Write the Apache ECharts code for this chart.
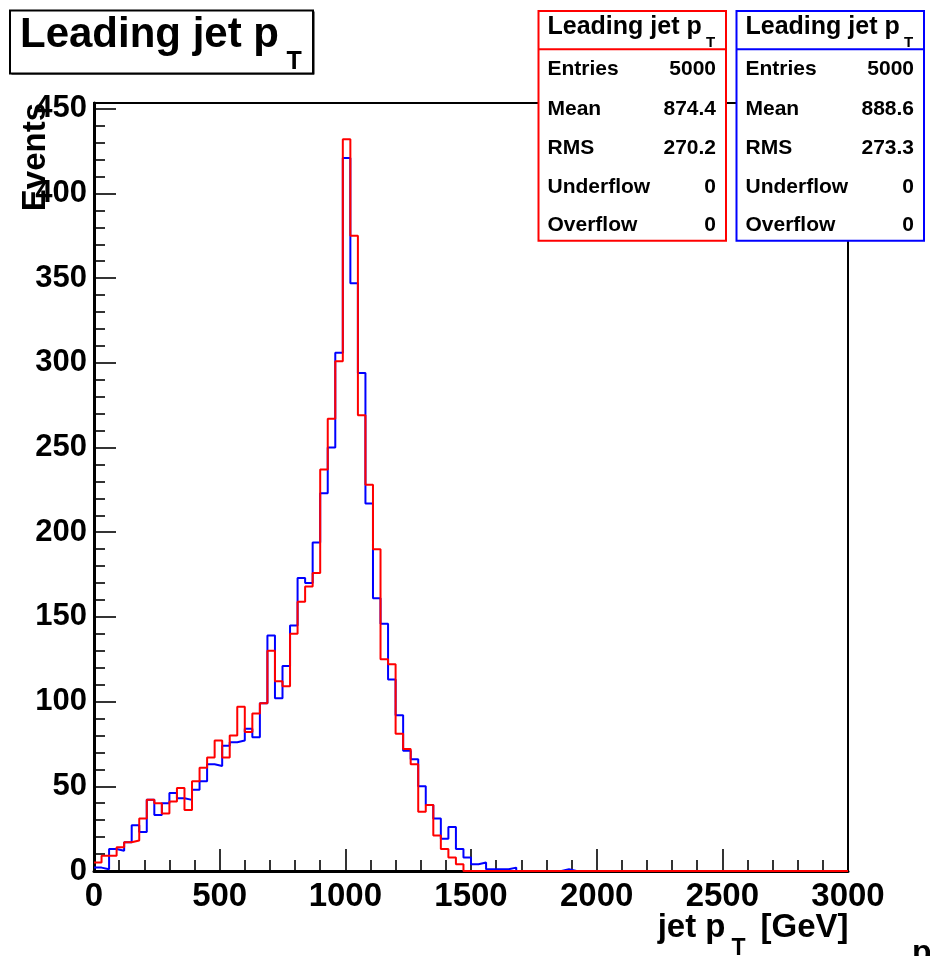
<!DOCTYPE html>
<html>
<head>
<meta charset="utf-8">
<script src="https://cdn.jsdelivr.net/npm/echarts@6/dist/echarts.min.js"></script>
<style>
html,body{margin:0;padding:0;background:#fff;}
#chart{width:930px;height:956px;}
</style>
</head>
<body>
<div id="chart"></div>
<script>
// ---- data ----
const binLo = 0;
const binWidth = 30;           // GeV, 100 bins over 0..3000
const xTickValues = [0, 500, 1000, 1500, 2000, 2500, 3000];
const yTickValues = [0, 50, 100, 150, 200, 250, 300, 350, 400, 450];
const yMinorTickValues = [10,20,30,40,60,70,80,90,110,120,130,140,160,170,180,190,210,220,230,240,260,270,280,290,310,320,330,340,360,370,380,390,410,420,430,440];
const blueCounts = [
  2, 1, 13, 12, 17, 27, 23, 42, 33, 40,
  46, 43, 42, 48, 53, 63, 62, 74, 76, 77,
  84, 79, 99, 139, 102, 121, 145, 173, 170, 194,
  223, 250, 306, 421, 347, 294, 217, 161, 146, 113,
  92, 71, 66, 50, 39, 31, 19, 26, 13, 8,
  4, 5, 1, 1, 1, 2, 0, 0, 0, 0,
  0, 0, 1, 0, 0, 0, 0, 0, 0, 0,
  0, 0, 0, 0, 0, 0, 0, 0, 0, 0,
  0, 0, 0, 0, 0, 0, 0, 0, 0, 0,
  0, 0, 0, 0, 0, 0, 0, 0, 0, 0
];
const redCounts = [
  5, 9, 9, 14, 17, 18, 31, 42, 40, 34,
  41, 49, 36, 53, 61, 67, 77, 67, 80, 97,
  82, 93, 99, 130, 112, 109, 140, 159, 168, 176,
  237, 267, 301, 432, 375, 269, 228, 190, 125, 122,
  81, 72, 63, 35, 39, 21, 13, 8, 4, 0,
  0, 0, 0, 0, 0, 0, 0, 0, 0, 0,
  0, 0, 0, 0, 0, 0, 0, 0, 0, 0,
  0, 0, 0, 0, 0, 0, 0, 0, 0, 0,
  0, 0, 0, 0, 0, 0, 0, 0, 0, 0,
  0, 0, 0, 0, 0, 0, 0, 0, 0, 0
];
const statLabels = ['Entries', 'Mean', 'RMS', 'Underflow', 'Overflow'];
const redStats = ['5000', '874.4', '270.2', '0', '0'];
const blueStats = ['5000', '888.6', '273.3', '0', '0'];

// ---- build ----
function toSteps(counts) {
  const pts = counts.map((v, k) => [binLo + k * binWidth, v]);
  pts.push([binLo + counts.length * binWidth, counts[counts.length - 1]]);
  return pts;
}
const FF = '"Liberation Sans", Arial, Helvetica, sans-serif';
// y is the cap-height centre; shift to the em-box middle used by verticalAlign 'middle'
function txt(x, y, s, size, opts) {
  opts = opts || {};
  const rot = opts.rotation || 0;
  const d = size * 0.09;
  return {
    type: 'text', x: rot ? x + d : x, y: rot ? y : y + d, z: 100, rotation: rot,
    style: {
      text: s, fill: opts.fill || '#000',
      font: 'bold ' + size + 'px ' + FF,
      align: opts.align || 'left', verticalAlign: 'middle'
    }
  };
}
function statBox(left, color, stats) {
  const w = 187.5, top = 11, h = 229.7;
  const els = [
    {type: 'rect', z: 90, shape: {x: left, y: top, width: w, height: h},
     style: {fill: '#fff', stroke: color, lineWidth: 2}},
    {type: 'line', z: 91, shape: {x1: left, y1: 49.3, x2: left + w, y2: 49.3},
     style: {stroke: color, lineWidth: 2}},
    txt(left + 9, 25, 'Leading jet p', 25),
    txt(left + 167.5, 42, 'T', 15)
  ];
  const rowY = [67.5, 107, 146.3, 185.5, 223.7];
  statLabels.forEach((lab, i) => {
    els.push(txt(left + 9, rowY[i], lab, 21));
    els.push(txt(left + 177.5, rowY[i], stats[i], 21, {align: 'right'}));
  });
  return els;
}

const chart = echarts.init(document.getElementById('chart'), null, {renderer: 'canvas'});
const axisFont = {fontFamily: FF, fontWeight: 'bold', color: '#000'};
const option = {
  backgroundColor: '#fff',
  animation: false,
  grid: {left: 94, right: 82, top: 103, bottom: 85, show: true,
         borderColor: '#000', borderWidth: 2, outerBoundsMode: 'none', containLabel: false},
  xAxis: {
    type: 'value', min: 0, max: 3000, interval: 500,
    axisLine: {show: true, onZero: false, lineStyle: {color: '#000', width: 3}},
    axisTick: {show: true, inside: true, length: 22, lineStyle: {color: '#000', width: 1.6}},
    minorTick: {show: true, splitNumber: 5, length: 11, lineStyle: {color: '#000', width: 1.6}},
    splitLine: {show: false}, minorSplitLine: {show: false},
    axisLabel: Object.assign({fontSize: 33, margin: 9, showMinLabel: true, showMaxLabel: true,
      customValues: xTickValues, formatter: v => String(v)}, axisFont)
  },
  yAxis: [{
    type: 'value', min: 0, max: 453.4, position: 'left',
    axisLine: {show: true, onZero: false, lineStyle: {color: '#000', width: 3}},
    axisTick: {show: true, inside: true, length: 22, customValues: yTickValues,
      lineStyle: {color: '#000', width: 1.6}},
    splitLine: {show: false},
    axisLabel: Object.assign({fontSize: 31, margin: 7, customValues: yTickValues,
      formatter: v => String(v)}, axisFont)
  }, {
    type: 'value', min: 0, max: 453.4, position: 'left', offset: 0,
    axisLine: {show: false},
    axisTick: {show: true, inside: true, length: 11, customValues: yMinorTickValues,
      lineStyle: {color: '#000', width: 1.6}},
    splitLine: {show: false},
    axisLabel: {show: false}
  }],
  series: [{
    type: 'line', name: 'blue', step: 'end', symbol: 'none', clip: false,
    data: toSteps(blueCounts), z: 3,
    lineStyle: {color: '#0000ff', width: 2}
  }, {
    type: 'line', name: 'red', step: 'end', symbol: 'none', clip: false,
    data: toSteps(redCounts), z: 4,
    lineStyle: {color: '#ff0000', width: 2}
  }],
  graphic: [].concat(
    [
      {type: 'rect', z: 89, shape: {x: 11.5, y: 11.5, width: 303, height: 63}, style: {fill: '#000'}},
      {type: 'rect', z: 90, shape: {x: 10, y: 10.5, width: 303, height: 63},
       style: {fill: '#fff', stroke: '#000', lineWidth: 2}},
      txt(20, 32, 'Leading jet p', 42),
      txt(286.5, 59.5, 'T', 25),
      txt(33, 103, 'Events', 33, {align: 'right', rotation: Math.PI / 2}),
      txt(725.5, 924.7, 'jet p', 33, {align: 'right'}),
      txt(731.5, 946.5, 'T', 23),
      txt(848.5, 924.7, '[GeV]', 33, {align: 'right'}),
      txt(912, 950, 'p', 32)
    ],
    statBox(538.5, '#ff0000', redStats),
    statBox(736.5, '#0000ff', blueStats)
  )
};
chart.setOption(option);
</script>
</body>
</html>
